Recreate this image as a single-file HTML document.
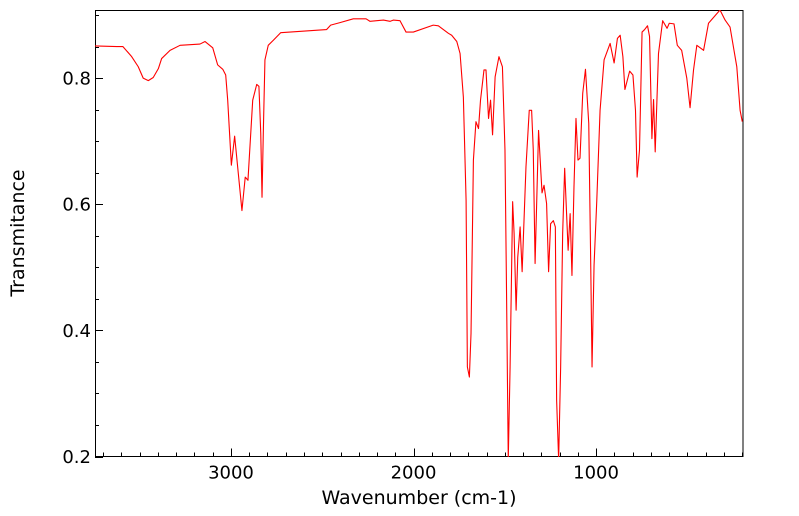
<!DOCTYPE html>
<html><head><meta charset="utf-8"><style>
html,body{margin:0;padding:0;background:#fff;}
svg{display:block;font-family:"DejaVu Sans","Liberation Sans",sans-serif;}
</style></head><body>
<svg id="chart" width="799" height="516" viewBox="0 0 799 516" xmlns="http://www.w3.org/2000/svg">
<defs><clipPath id="clip"><rect x="95" y="10" width="648" height="447"/></clipPath></defs>
<rect x="95.5" y="10.5" width="647.5" height="446" fill="none" stroke="#000" stroke-width="1"/>
<g id="ticks"></g>
<g id="series" clip-path="url(#clip)"></g>
<text x="419" y="504" font-size="19" text-anchor="middle">Wavenumber (cm-1)</text>
<text x="24" y="233" font-size="19" text-anchor="middle" transform="rotate(-90 24 233)">Transmitance</text>
</svg>
<script>
const wavenumbers = [3745,3626,3592,3544,3508,3481,3453,3426,3398,3380,3334,3279,3170,3142,3100,3073,3045,3029,3018,2998,2980,2960,2940,2922,2907,2881,2859,2847,2837,2830,2823,2814,2796,2768,2728,2476,2454,2403,2330,2260,2238,2165,2129,2111,2074,2041,2001,1892,1864,1809,1791,1763,1745,1727,1712,1705,1694,1685,1672,1658,1644,1633,1614,1603,1589,1578,1567,1553,1532,1513,1499,1490,1481,1471,1457,1449,1438,1429,1416,1405,1384,1366,1353,1344,1334,1325,1315,1307,1296,1285,1271,1260,1249,1234,1223,1216,1205,1194,1183,1172,1153,1142,1132,1121,1110,1099,1088,1073,1058,1040,1029,1022,1011,996,978,956,923,901,883,868,853,842,816,798,784,775,762,748,734,718,707,694,685,676,658,635,611,599,573,555,531,503,485,466,448,411,384,321,293,266,229,211,199];
const transmittance = [0.851,0.850,0.850,0.834,0.818,0.800,0.796,0.801,0.815,0.831,0.844,0.852,0.854,0.858,0.848,0.821,0.814,0.805,0.765,0.662,0.708,0.649,0.590,0.643,0.638,0.765,0.790,0.787,0.713,0.611,0.713,0.829,0.852,0.860,0.872,0.877,0.884,0.888,0.894,0.894,0.890,0.892,0.890,0.892,0.891,0.873,0.873,0.884,0.883,0.871,0.868,0.858,0.839,0.770,0.606,0.342,0.326,0.395,0.670,0.731,0.720,0.765,0.813,0.813,0.736,0.765,0.710,0.802,0.834,0.818,0.686,0.448,0.195,0.342,0.604,0.554,0.432,0.516,0.564,0.493,0.659,0.749,0.749,0.686,0.506,0.606,0.717,0.675,0.618,0.630,0.601,0.493,0.569,0.574,0.564,0.289,0.195,0.342,0.554,0.657,0.527,0.585,0.487,0.627,0.736,0.670,0.673,0.776,0.814,0.728,0.500,0.342,0.503,0.606,0.749,0.829,0.855,0.824,0.863,0.868,0.834,0.782,0.811,0.805,0.749,0.643,0.686,0.873,0.877,0.883,0.866,0.704,0.766,0.683,0.839,0.891,0.879,0.887,0.886,0.852,0.844,0.800,0.753,0.813,0.852,0.844,0.887,0.908,0.892,0.881,0.818,0.749,0.731];
const xMajorTicks = [3000,2000,1000];
const xTickLabels = ["3000","2000","1000"];
const yMajorTicks = [0.2,0.4,0.6,0.8];
const yTickLabels = ["0.2","0.4","0.6","0.8"];

const X0=95,X1=743,Y0=456.5,Y1=10;
const WMAX=3745,WMIN=195,TMIN=0.2,TMAX=0.908;
function xs(w){return X0+(WMAX-w)/(WMAX-WMIN)*(X1-X0);}
function ys(t){return Y0-(t-TMIN)/(TMAX-TMIN)*(Y0-Y1);}
const NS="http://www.w3.org/2000/svg";
const tg=document.getElementById('ticks');
function line(x1,y1,x2,y2,name){const l=document.createElementNS(NS,'line');l.setAttribute('x1',x1);l.setAttribute('y1',y1);l.setAttribute('x2',x2);l.setAttribute('y2',y2);l.setAttribute('stroke','#000');l.setAttribute('stroke-width','1');


tg.appendChild(l);}
function text(x,y,s,anchor,name){const t=document.createElementNS(NS,'text');t.setAttribute('x',x);t.setAttribute('y',y);t.setAttribute('font-size','18');t.setAttribute('text-anchor',anchor);t.textContent=s;


tg.appendChild(t);}
for(let w=3700;w>=200;w-=100){const x=Math.round(xs(w))+0.5;const maj=w%1000===0;line(x,Y0,x,Y0-(maj?8:4),maj?'x-major-tick':'x-minor-tick');}
xMajorTicks.forEach((w,i)=>text(xs(w),Y0+22,xTickLabels[i],'middle','x-tick-label'));
for(let k=0;k<=14;k++){const t=0.2+k*0.05;if(t>TMAX)break;const y=Math.round(ys(t))+0.5;const maj=k%4===0;line(X0,y,X0+(maj?8:4),y,maj?'y-major-tick':'y-minor-tick');}
yMajorTicks.forEach((t,i)=>text(X0-4,ys(t)+6.5,yTickLabels[i],'end','y-tick-label'));
let d='';wavenumbers.forEach((w,i)=>{d+=(i?'L':'M')+xs(w).toFixed(2)+','+ys(transmittance[i]).toFixed(2);});
const p=document.createElementNS(NS,'path');p.setAttribute('d',d);p.setAttribute('fill','none');p.setAttribute('stroke','#ff0000');p.setAttribute('stroke-width','1.1');p.setAttribute('stroke-linejoin','round');


document.getElementById('series').appendChild(p);
</script>
</body></html>
